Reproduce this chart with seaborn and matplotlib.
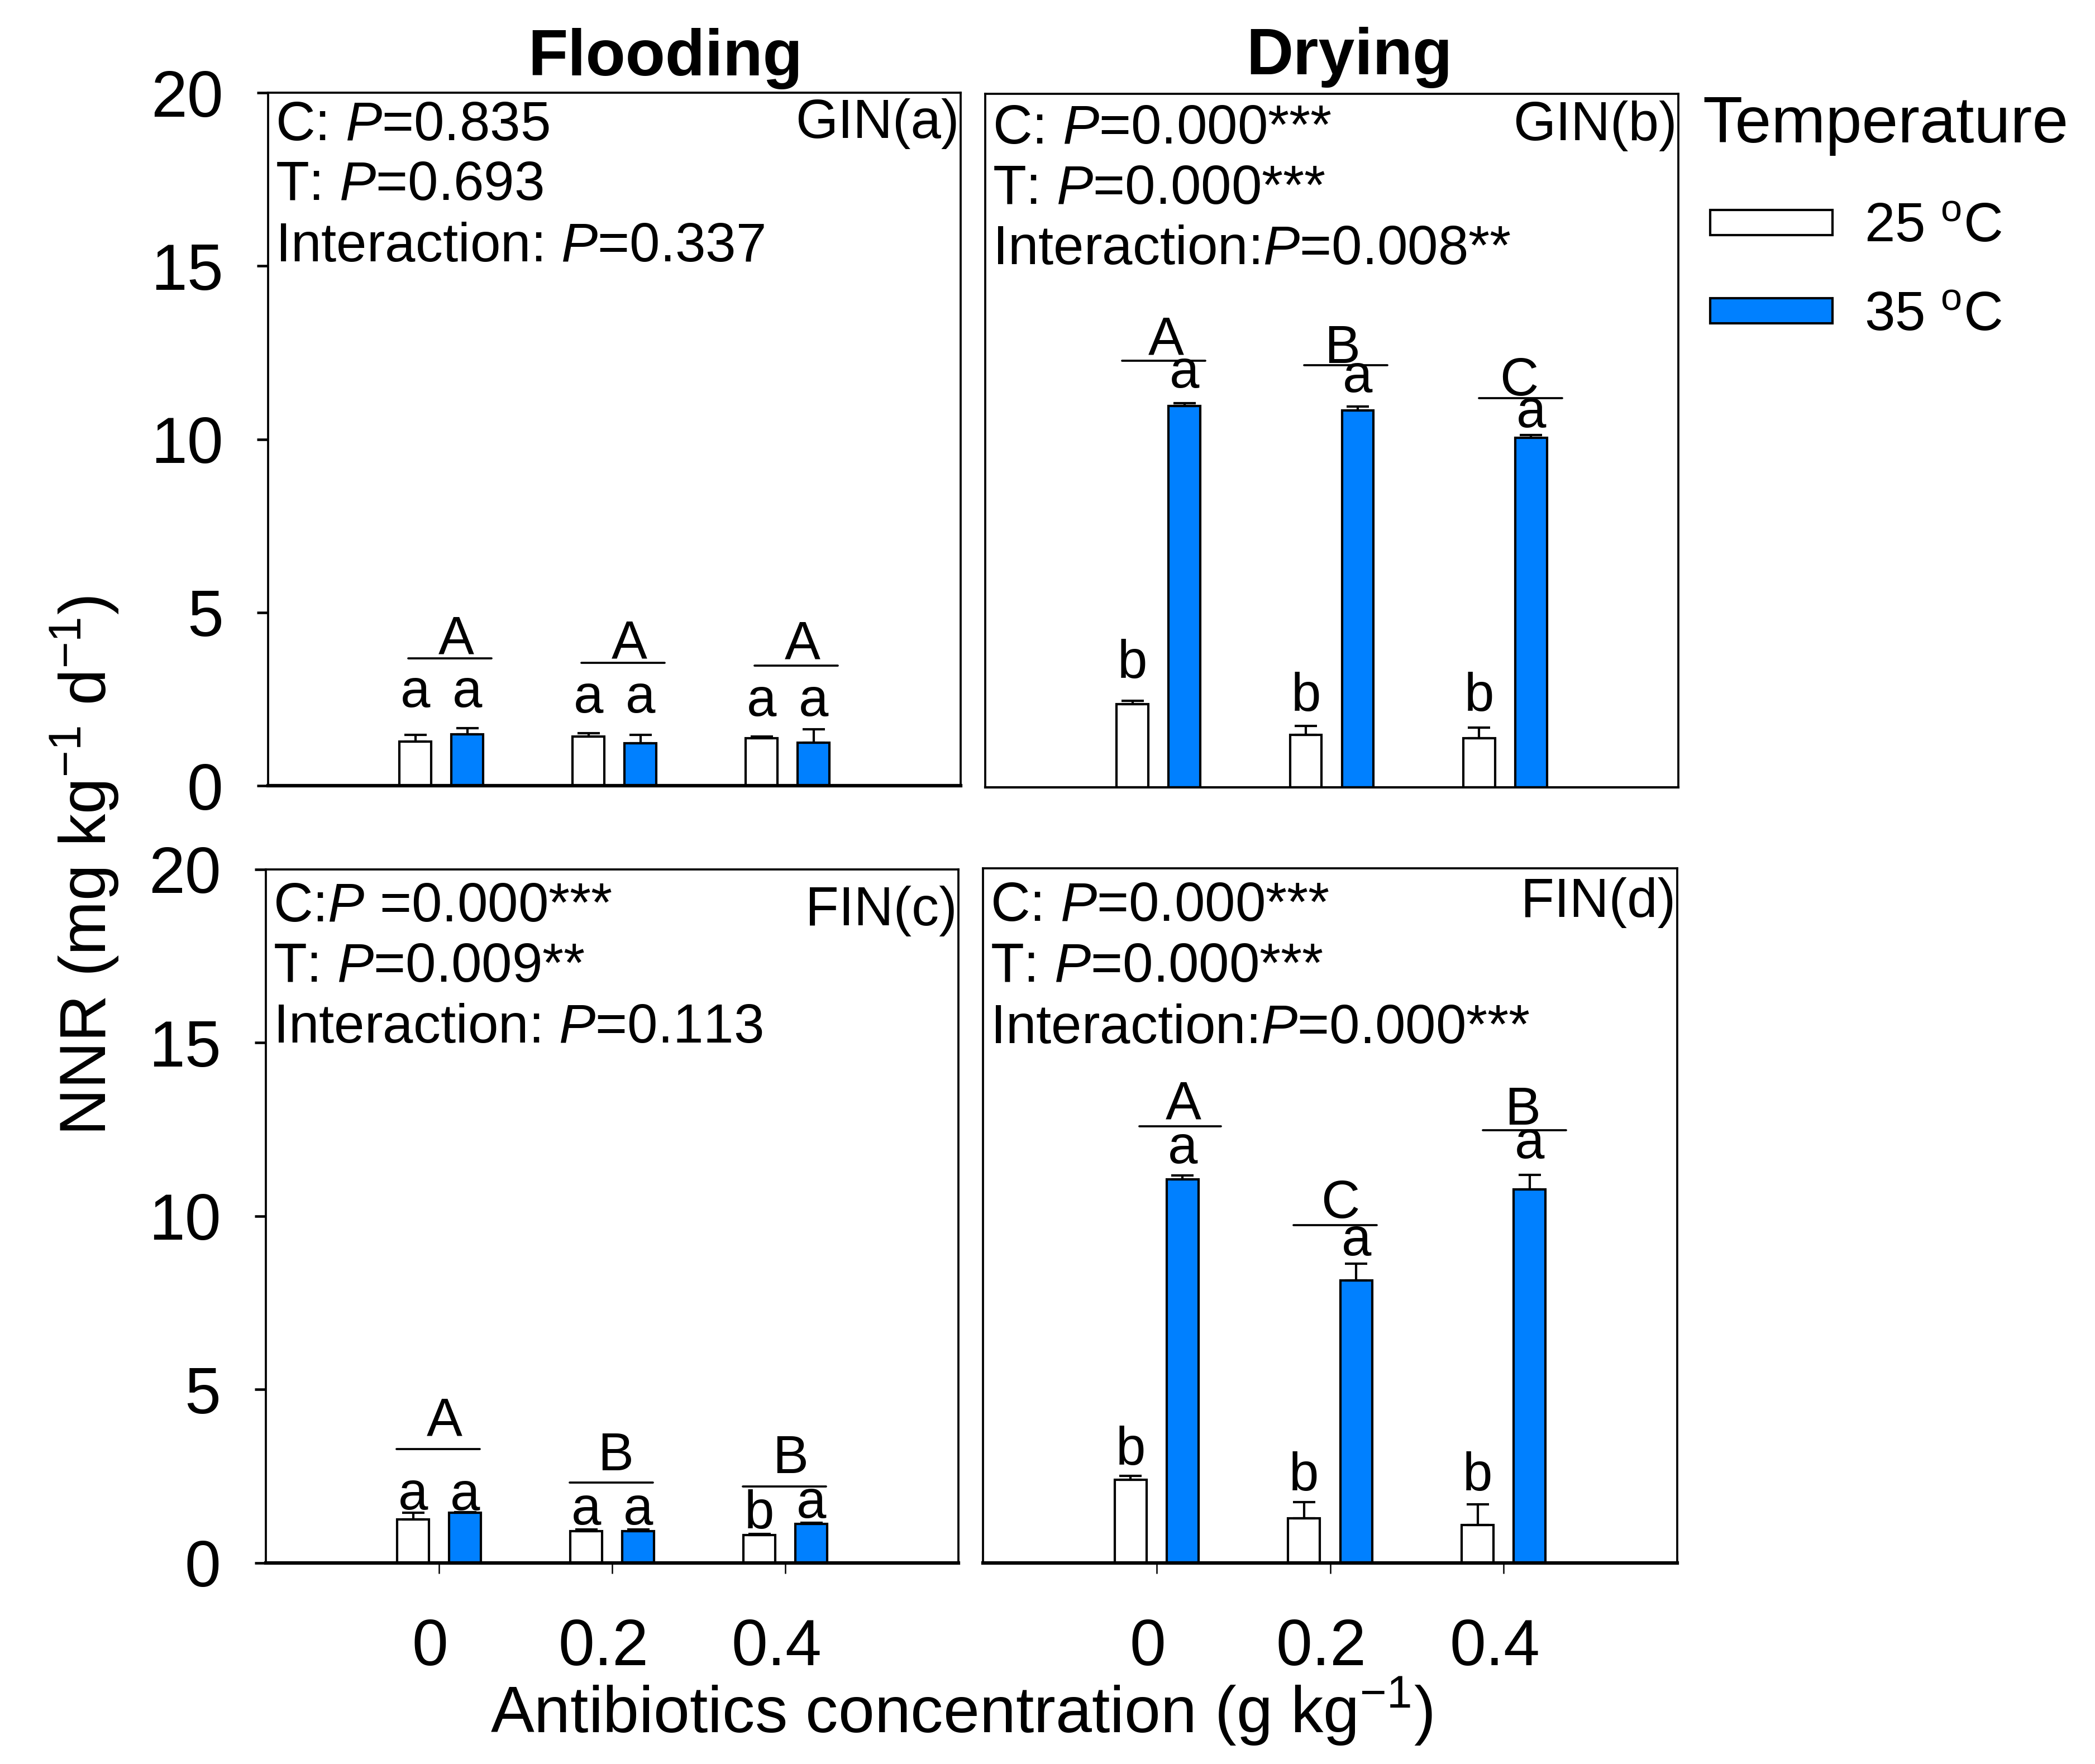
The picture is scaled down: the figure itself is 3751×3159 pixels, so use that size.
import matplotlib
matplotlib.use('Agg')
import matplotlib.pyplot as plt
import matplotlib.transforms as mtransforms
import pandas as pd
import seaborn as sns

# ---------------------------------------------------------------
# Data
# ---------------------------------------------------------------
concentrations = ['0', '0.2', '0.4']
temperatures = ['25', '35']

gin_flood_25 = [1.27, 1.42, 1.37]
gin_flood_35 = [1.48, 1.22, 1.24]
gin_flood_25_se = [0.19, 0.09, 0.05]
gin_flood_35_se = [0.18, 0.25, 0.39]

gin_dry_25 = [2.39, 1.51, 1.42]
gin_dry_35 = [11.00, 10.86, 10.08]
gin_dry_25_se = [0.10, 0.26, 0.30]
gin_dry_35_se = [0.08, 0.12, 0.08]

fin_flood_25 = [1.26, 0.91, 0.80]
fin_flood_35 = [1.45, 0.91, 1.12]
fin_flood_25_se = [0.19, 0.05, 0.04]
fin_flood_35_se = [0.02, 0.05, 0.04]

fin_dry_25 = [2.40, 1.28, 1.09]
fin_dry_35 = [11.05, 8.13, 10.76]
fin_dry_25_se = [0.11, 0.47, 0.60]
fin_dry_35_se = [0.10, 0.49, 0.41]

# significance letters
gin_flood_letters_25 = ['a', 'a', 'a']
gin_flood_letters_35 = ['a', 'a', 'a']
gin_flood_group = ['A', 'A', 'A']
gin_dry_letters_25 = ['b', 'b', 'b']
gin_dry_letters_35 = ['a', 'a', 'a']
gin_dry_group = ['A', 'B', 'C']
fin_flood_letters_25 = ['a', 'a', 'b']
fin_flood_letters_35 = ['a', 'a', 'a']
fin_flood_group = ['A', 'B', 'B']
fin_dry_letters_25 = ['b', 'b', 'b']
fin_dry_letters_35 = ['a', 'a', 'a']
fin_dry_group = ['A', 'C', 'B']

gin_flood_stats = ['C: $\\mathit{P}$=0.835', 'T: $\\mathit{P}$=0.693',
                   'Interaction: $\\mathit{P}$=0.337']
gin_dry_stats = ['C: $\\mathit{P}$=0.000***', 'T: $\\mathit{P}$=0.000***',
                 'Interaction:$\\mathit{P}$=0.008**']
fin_flood_stats = ['C:$\\mathit{P}$ =0.000***', 'T: $\\mathit{P}$=0.009**',
                   'Interaction: $\\mathit{P}$=0.113']
fin_dry_stats = ['C: $\\mathit{P}$=0.000***', 'T: $\\mathit{P}$=0.000***',
                 'Interaction:$\\mathit{P}$=0.000***']

# ---------------------------------------------------------------
# Layout of the annotations (data units / axes fractions)
# ---------------------------------------------------------------
layout = {
    'a': dict(rect=[0.1280, 0.5546, 0.3306, 0.3928], tag='GIN(a)',
              low_y25=[2.28, 2.11, 2.02], low_y35=[2.28, 2.11, 2.02],
              line_y=[3.67, 3.55, 3.47], cap_y=[3.82, 3.68, 3.67],
              line_x=[(-0.19, 0.29)] * 3, cap_dx=[0.085] * 3,
              stat_y=[0.932, 0.845, 0.757], tag_y=0.935),
    'b': dict(rect=[0.4703, 0.5537, 0.3308, 0.3932], tag='GIN(b)',
              low_y25=[3.16, 2.20, 2.20], low_y35=[11.53, 11.39, 10.38],
              line_y=[12.30, 12.17, 11.22], cap_y=[12.49, 12.23, 11.30],
              line_x=[(-0.21, 0.27), (-0.16, 0.32), (-0.15, 0.33)],
              cap_dx=[0.045, 0.06, 0.08],
              stat_y=[0.928, 0.841, 0.754], tag_y=0.933),
    'c': dict(rect=[0.1269, 0.1140, 0.3306, 0.3932], tag='FIN(c)',
              low_y25=[1.54, 1.11, 1.00], low_y35=[1.52, 1.11, 1.30],
              line_y=[3.29, 2.31, 2.21], cap_y=[3.68, 2.67, 2.59],
              line_x=[(-0.245, 0.235)] * 3, cap_dx=[0.03, 0.02, 0.03],
              stat_y=[0.925, 0.838, 0.750], tag_y=0.919),
    'd': dict(rect=[0.4692, 0.1140, 0.3314, 0.3938], tag='FIN(d)',
              low_y25=[2.83, 2.09, 2.09], low_y35=[11.51, 8.86, 11.66],
              line_y=[12.57, 9.73, 12.46], cap_y=[12.79, 9.94, 12.62],
              line_x=[(-0.10, 0.37), (-0.21, 0.27), (-0.12, 0.36)],
              cap_dx=[0.155, 0.06, 0.11],
              stat_y=[0.924, 0.837, 0.748], tag_y=0.930),
}

panels = {
    'a': dict(w=gin_flood_25, b=gin_flood_35, w_se=gin_flood_25_se, b_se=gin_flood_35_se,
              lw=gin_flood_letters_25, lb=gin_flood_letters_35, grp=gin_flood_group,
              stats=gin_flood_stats),
    'b': dict(w=gin_dry_25, b=gin_dry_35, w_se=gin_dry_25_se, b_se=gin_dry_35_se,
              lw=gin_dry_letters_25, lb=gin_dry_letters_35, grp=gin_dry_group,
              stats=gin_dry_stats),
    'c': dict(w=fin_flood_25, b=fin_flood_35, w_se=fin_flood_25_se, b_se=fin_flood_35_se,
              lw=fin_flood_letters_25, lb=fin_flood_letters_35, grp=fin_flood_group,
              stats=fin_flood_stats),
    'd': dict(w=fin_dry_25, b=fin_dry_35, w_se=fin_dry_25_se, b_se=fin_dry_35_se,
              lw=fin_dry_letters_25, lb=fin_dry_letters_35, grp=fin_dry_group,
              stats=fin_dry_stats),
}

BLUE = '#0080FF'
DPI = 300

sns.set_style('ticks')
plt.rcParams['font.family'] = ['Liberation Sans', 'DejaVu Sans']
plt.rcParams['mathtext.fontset'] = 'custom'
plt.rcParams['mathtext.rm'] = 'Liberation Sans'
plt.rcParams['mathtext.it'] = 'Liberation Sans:italic'
plt.rcParams['mathtext.bf'] = 'Liberation Sans:bold'
for k in ['text.color', 'axes.labelcolor', 'xtick.color', 'ytick.color',
          'axes.edgecolor']:
    plt.rcParams[k] = 'black'

fig = plt.figure(figsize=(3751 / DPI, 3159 / DPI), dpi=DPI)

axes = {}
bar_containers = {}
for key in ['a', 'b', 'c', 'd']:
    p = panels[key]
    lay = layout[key]
    ax = fig.add_axes(lay['rect'])
    axes[key] = ax

    df = pd.DataFrame({
        'conc': concentrations * 2,
        'temp': [temperatures[0]] * 3 + [temperatures[1]] * 3,
        'nnr': p['w'] + p['b'],
    })
    sns.barplot(data=df, x='conc', y='nnr', hue='temp', order=concentrations,
                hue_order=temperatures, palette=['white', BLUE], saturation=1,
                edgecolor='black', linewidth=1.0, errorbar=None, width=0.6, gap=0.39,
                legend=False, ax=ax)
    conts = list(ax.containers)
    bar_containers[key] = conts

    # one-sided error bars
    for cont, se in zip(conts, [p['w_se'], p['b_se']]):
        for bar, e in zip(cont, se):
            xc = bar.get_x() + bar.get_width() / 2
            ax.errorbar(xc, bar.get_height(), yerr=[[0], [e]], fmt='none',
                        ecolor='black', elinewidth=1.0, capsize=4.7, capthick=1.0,
                        zorder=4)

    # letters above bars
    for cont, letters, ys in zip(conts, [p['lw'], p['lb']],
                                 [lay['low_y25'], lay['low_y35']]):
        for bar, let, yy in zip(cont, letters, ys):
            xc = bar.get_x() + bar.get_width() / 2
            ax.text(xc, yy, let, ha='center', va='baseline', fontsize=23)

    # group letters with line
    for i, let in enumerate(p['grp']):
        x0, x1 = lay['line_x'][i]
        ax.plot([i + x0, i + x1], [lay['line_y'][i]] * 2, color='black', lw=0.9)
        ax.text(i + lay['cap_dx'][i], lay['cap_y'][i], let, ha='center',
                va='baseline', fontsize=23)

    # statistics text
    for s, yy in zip(p['stats'], lay['stat_y']):
        ax.text(0.0105, yy, s, transform=ax.transAxes, ha='left', va='baseline',
                fontsize=23.5)
    ax.text(0.998, lay['tag_y'], lay['tag'], transform=ax.transAxes, ha='right',
            va='baseline', fontsize=23.5)

    ax.set_xlim(-1, 3)
    ax.set_ylim(0, 20)
    ax.set_xlabel('')
    ax.set_ylabel('')
    for side in ['top', 'right', 'left', 'bottom']:
        ax.spines[side].set_visible(True)
        ax.spines[side].set_linewidth(0.9)
        ax.spines[side].set_color('black')
    ax.spines['bottom'].set_linewidth(1.5 if key != 'b' else 1.0)

    if key in ('a', 'c'):
        ax.set_yticks([0, 5, 10, 15, 20])
        ax.tick_params(axis='y', direction='out', length=4.8, width=1.1,
                       pad=14.5, labelsize=28, colors='black')
    else:
        ax.set_yticks([])
    if key in ('c', 'd'):
        ax.set_xticks(range(len(concentrations)))
        ax.set_xticklabels(concentrations)
        ax.tick_params(axis='x', direction='out', length=4.6, width=0.6,
                       pad=19, labelsize=28, colors='black')
        shift = mtransforms.ScaledTranslation(-16 / DPI, 0, fig.dpi_scale_trans)
        for lab in ax.get_xticklabels():
            lab.set_transform(lab.get_transform() + shift)
    else:
        ax.set_xticks([])

# column titles
fig.text(0.3175, 0.9573, 'Flooding', ha='center', va='baseline', fontsize=28,
         fontweight='bold')
fig.text(0.644, 0.958, 'Drying', ha='center', va='baseline', fontsize=28,
         fontweight='bold')

# shared axis labels
fig.text(0.0507, 0.509, 'NNR (mg kg$^{-1}$ d$^{-1}$)', rotation=90,
         rotation_mode='anchor', ha='center', va='baseline', fontsize=28)
fig.text(0.459, 0.0177, 'Antibiotics concentration (g kg$^{-1}$)', ha='center',
         va='baseline', fontsize=28)

# legend built from the bars of panel b, with its title set apart
fig.text(0.8126, 0.9193, 'Temperature', ha='left', va='baseline', fontsize=28)
handles = [cont.patches[0] for cont in bar_containers['b']]
labels = [f'{t} $^{{\\mathrm{{o}}}}$C' for t in temperatures]
leg = fig.legend(handles, labels, loc='center left',
                 bbox_to_anchor=(0.8163, 0.8458), frameon=False, fontsize=23.5,
                 handlelength=2.24, handleheight=0.33,
                 handletextpad=0.58, labelspacing=0.69, borderpad=0,
                 borderaxespad=0)

fig.savefig('out.png', dpi=DPI)
